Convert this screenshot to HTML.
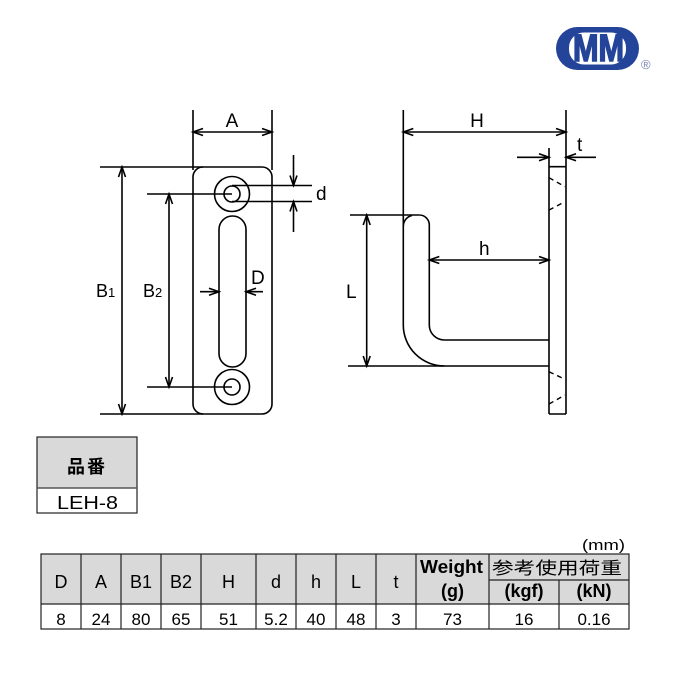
<!DOCTYPE html>
<html>
<head>
<meta charset="utf-8">
<style>
  html,body{margin:0;padding:0;background:#fff;}
  svg{display:block;}
  text{font-family:"Liberation Sans","Noto Sans CJK JP",sans-serif;}
</style>
</head>
<body>
<svg width="680" height="680" viewBox="0 0 680 680" xmlns="http://www.w3.org/2000/svg">
  <rect width="680" height="680" fill="#fff"/>

  <!-- Logo -->
  <rect x="556" y="27" width="83" height="43" rx="21.5" fill="#24449a"/>
  <rect x="569" y="32.5" width="57" height="32" rx="15" fill="#fff"/>
  <text x="573" y="61" font-size="38" font-weight="bold" fill="#24449a" stroke="#24449a" stroke-width="1.6" textLength="51" lengthAdjust="spacingAndGlyphs">MM</text>
  <text x="641" y="69" font-size="13" fill="#7884ad">®</text>

  <g stroke="#000" stroke-width="1.6" fill="none" stroke-linecap="butt">
    <!-- LEFT VIEW -->
    <rect x="193" y="167" width="79" height="247" rx="10"/>
    <line x1="193" y1="110" x2="193" y2="170"/>
    <line x1="272" y1="110" x2="272" y2="170"/>
    <line x1="193" y1="132" x2="272" y2="132"/>
    <polyline points="203,128.5 193,132 203,135.5"/>
    <polyline points="262,128.5 272,132 262,135.5"/>
    <!-- B1 -->
    <line x1="100" y1="167" x2="203" y2="167"/>
    <line x1="100" y1="414" x2="203" y2="414"/>
    <line x1="122" y1="167" x2="122" y2="414"/>
    <polyline points="118.5,177 122,167 125.5,177"/>
    <polyline points="118.5,404 122,414 125.5,404"/>
    <!-- B2 -->
    <line x1="147" y1="194" x2="232" y2="194"/>
    <line x1="147" y1="387" x2="232" y2="387"/>
    <line x1="169" y1="194" x2="169" y2="387"/>
    <polyline points="165.5,204 169,194 172.5,204"/>
    <polyline points="165.5,377 169,387 172.5,377"/>
    <!-- holes -->
    <circle cx="232" cy="194" r="17.5"/>
    <circle cx="232" cy="194" r="8"/>
    <circle cx="232" cy="387" r="17.5"/>
    <circle cx="232" cy="387" r="8"/>
    <!-- slot -->
    <rect x="219" y="216" width="27" height="151" rx="13.5"/>
    <!-- d -->
    <line x1="232" y1="185.5" x2="312" y2="185.5"/>
    <line x1="232" y1="201.5" x2="312" y2="201.5"/>
    <line x1="293.5" y1="155" x2="293.5" y2="185.5"/>
    <polyline points="290,175.5 293.5,185.5 297,175.5"/>
    <line x1="293.5" y1="232" x2="293.5" y2="201.5"/>
    <polyline points="290,211.5 293.5,201.5 297,211.5"/>
    <!-- D -->
    <line x1="200" y1="291.7" x2="219" y2="291.7"/>
    <polyline points="209,288.2 219,291.7 209,295.2"/>
    <line x1="263" y1="291.7" x2="246" y2="291.7"/>
    <polyline points="256,288.2 246,291.7 256,295.2"/>

    <!-- RIGHT VIEW -->
    <line x1="403.3" y1="110" x2="403.3" y2="325"/>
    <line x1="566" y1="110" x2="566" y2="414"/>
    <line x1="549" y1="148" x2="549" y2="414"/>
    <line x1="549" y1="414" x2="566" y2="414"/>
    <line x1="549" y1="166.7" x2="566" y2="166.7"/>
    <!-- H -->
    <line x1="403.3" y1="132" x2="566" y2="132"/>
    <polyline points="413.3,128.5 403.3,132 413.3,135.5"/>
    <polyline points="556,128.5 566,132 556,135.5"/>
    <!-- t -->
    <line x1="517" y1="157.3" x2="549" y2="157.3"/>
    <polyline points="539,153.8 549,157.3 539,160.8"/>
    <line x1="596" y1="157.3" x2="566" y2="157.3"/>
    <polyline points="576,153.8 566,157.3 576,160.8"/>
    <!-- hook -->
    <line x1="350" y1="215" x2="419.3" y2="215"/>
    <path d="M419.3,215 A10,10 0 0 1 429.3,225 L429.3,325 A15,15 0 0 0 444.3,340 L549,340"/>
    <path d="M403.3,325 A41,41 0 0 0 444.3,366"/>
    <path d="M403.3,226 A11,11 0 0 1 412,215.5"/>
    <line x1="348" y1="366" x2="549" y2="366"/>
    <!-- L -->
    <line x1="366.7" y1="215" x2="366.7" y2="366"/>
    <polyline points="363.2,225 366.7,215 370.2,225"/>
    <polyline points="363.2,356 366.7,366 370.2,356"/>
    <!-- h -->
    <line x1="429.3" y1="260" x2="549" y2="260"/>
    <polyline points="439.3,256.5 429.3,260 439.3,263.5"/>
    <polyline points="539,256.5 549,260 539,263.5"/>
  </g>
  <!-- dashed hidden lines -->
  <g stroke="#000" stroke-width="1.4" stroke-dasharray="5,4" fill="none">
    <line x1="549" y1="177.7" x2="565" y2="186.7"/>
    <line x1="549" y1="210" x2="565" y2="201.7"/>
    <line x1="549" y1="371.7" x2="565" y2="379.3"/>
    <line x1="549" y1="404" x2="565" y2="395"/>
  </g>

  <!-- labels -->
  <g fill="#000" font-size="19">
    <text x="232" y="127" text-anchor="middle">A</text>
    <text x="96" y="297" font-size="18">B<tspan font-size="13">1</tspan></text>
    <text x="143" y="297" font-size="18">B<tspan font-size="13">2</tspan></text>
    <text x="316" y="200" font-size="19">d</text>
    <text x="251" y="284">D</text>
    <text x="477" y="127" text-anchor="middle">H</text>
    <text x="577" y="151">t</text>
    <text x="346" y="298">L</text>
    <text x="479" y="255">h</text>
  </g>

  <!-- 品番 table -->
  <rect x="37" y="437" width="100" height="51" fill="#d9d9d9"/>
  <rect x="37" y="437" width="100" height="76" fill="none" stroke="#222" stroke-width="1.2"/>
  <line x1="37" y1="488" x2="137" y2="488" stroke="#555" stroke-width="1.5"/>
  <text x="87" y="473" text-anchor="middle" font-size="18" letter-spacing="2" font-weight="bold" fill="#000">品番</text>
  <text x="57" y="509" font-size="18" textLength="61" lengthAdjust="spacingAndGlyphs" fill="#000">LEH-8</text>

  <!-- main table -->
  <text x="582" y="550" font-size="15" textLength="43" lengthAdjust="spacingAndGlyphs" fill="#000">(mm)</text>
  <rect x="41" y="554" width="588" height="50" fill="#d9d9d9"/>
  <g stroke="#222" stroke-width="1.2" fill="none">
    <rect x="41" y="554" width="588" height="75"/>
    <line x1="41" y1="604" x2="629" y2="604"/>
    <line x1="489" y1="580" x2="629" y2="580"/>
    <line x1="81" y1="554" x2="81" y2="629"/>
    <line x1="121" y1="554" x2="121" y2="629"/>
    <line x1="161" y1="554" x2="161" y2="629"/>
    <line x1="201" y1="554" x2="201" y2="629"/>
    <line x1="256" y1="554" x2="256" y2="629"/>
    <line x1="296" y1="554" x2="296" y2="629"/>
    <line x1="336" y1="554" x2="336" y2="629"/>
    <line x1="376" y1="554" x2="376" y2="629"/>
    <line x1="416" y1="554" x2="416" y2="629"/>
    <line x1="489" y1="554" x2="489" y2="629"/>
    <line x1="559" y1="580" x2="559" y2="629"/>
  </g>
  <g fill="#000" font-size="18" text-anchor="middle">
    <text x="61" y="588">D</text>
    <text x="101" y="588">A</text>
    <text x="141" y="588">B1</text>
    <text x="181" y="588">B2</text>
    <text x="228.5" y="588">H</text>
    <text x="276" y="588">d</text>
    <text x="316" y="588">h</text>
    <text x="356" y="588">L</text>
    <text x="396" y="588">t</text>
  </g>
  <text x="420" y="573" font-size="18" font-weight="bold" textLength="63" lengthAdjust="spacingAndGlyphs" fill="#000">Weight</text>
  <text x="452.5" y="597" font-size="18" font-weight="bold" text-anchor="middle" fill="#000">(g)</text>
  <text x="492" y="574" font-size="17" textLength="130" lengthAdjust="spacingAndGlyphs" fill="#000">参考使用荷重</text>
  <text x="524" y="597" font-size="18" font-weight="bold" text-anchor="middle" fill="#000">(kgf)</text>
  <text x="594" y="597" font-size="18" font-weight="bold" text-anchor="middle" fill="#000">(kN)</text>
  <g fill="#000" font-size="17" text-anchor="middle">
    <text x="61" y="625">8</text>
    <text x="101" y="625">24</text>
    <text x="141" y="625">80</text>
    <text x="181" y="625">65</text>
    <text x="228.5" y="625">51</text>
    <text x="276" y="625">5.2</text>
    <text x="316" y="625">40</text>
    <text x="356" y="625">48</text>
    <text x="396" y="625">3</text>
    <text x="452.5" y="625">73</text>
    <text x="524" y="625">16</text>
    <text x="594" y="625">0.16</text>
  </g>
</svg>
</body>
</html>
